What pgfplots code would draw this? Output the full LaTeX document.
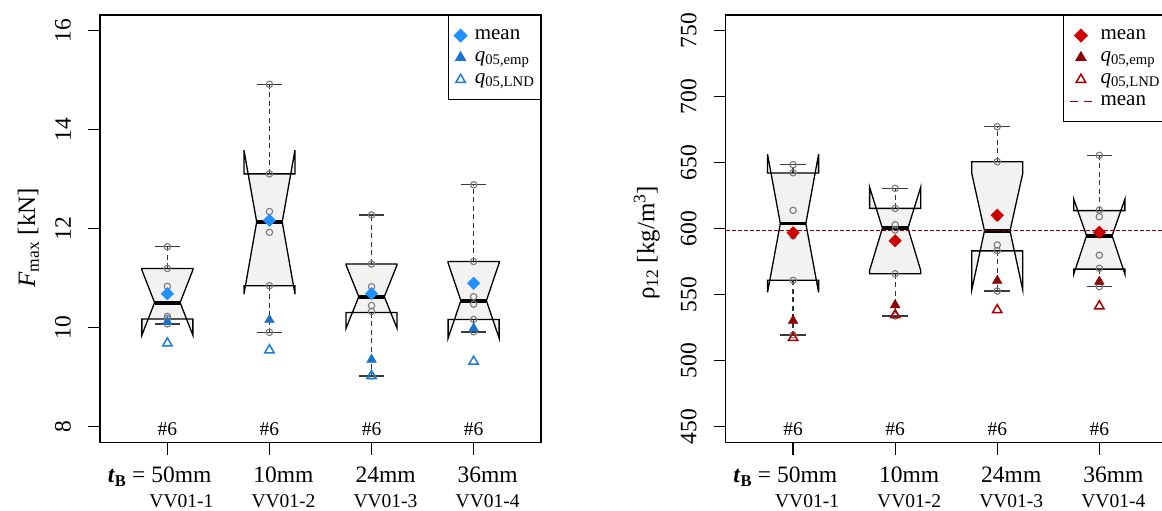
\documentclass[border=0pt]{standalone}
\usepackage{fontspec}
\setmainfont{Liberation Serif}
\usepackage{pgfplots}
\pgfplotsset{compat=1.18}

\definecolor{boxgray}{HTML}{F2F2F2}
\definecolor{ptgray}{HTML}{7A7A7A}
\definecolor{whiskc}{HTML}{333333}
\definecolor{capc}{HTML}{3A3A3A}
\definecolor{bmean}{HTML}{1E90FF}
\definecolor{bemp}{HTML}{1874CD}
\definecolor{blnd}{HTML}{1C7CD9}
\definecolor{rmean}{HTML}{CD0000}
\definecolor{remp}{HTML}{8B0000}
\definecolor{rlnd}{HTML}{A80000}
\definecolor{rline}{HTML}{8B0000}

\newcommand\fTick{\fontsize{23.5}{25}\selectfont}
\newcommand\fLab{\fontsize{25}{28}\selectfont}
\newcommand\fLeg{\fontsize{21}{22}\selectfont}
\newcommand\fSmall{\fontsize{19.5}{25}\selectfont}

% notched box: x, Q1, notch lo, median, notch hi, Q3, lower whisker, upper whisker
\newcommand\nbox[8]{%
  \pgfmathsetmacro\xa{#1-0.25}%
  \pgfmathsetmacro\xb{#1+0.25}%
  \pgfmathsetmacro\xc{#1-0.125}%
  \pgfmathsetmacro\xd{#1+0.125}%
  \edef\nboxcmd{%
    \noexpand\addplot[boxfill] coordinates {(\xa,#2) (\xb,#2) (\xb,#3) (\xd,#4) (\xb,#5) (\xb,#6) (\xa,#6) (\xa,#5) (\xc,#4) (\xa,#3)} -- cycle;
    \noexpand\addplot[whisk] coordinates {(#1,#6) (#1,#8)};
    \noexpand\addplot[whisk] coordinates {(#1,#2) (#1,#7)};
    \noexpand\addplot[capl] coordinates {(\xc,#8) (\xd,#8)};
    \noexpand\addplot[capl] coordinates {(\xc,#7) (\xd,#7)};
    \noexpand\addplot[medline] coordinates {(\xc,#4) (\xd,#4)};
  }\nboxcmd}

\pgfplotsset{
  boxfill/.style={forget plot, draw=black, line width=1.3pt, fill=boxgray, mark=none},
  whisk/.style={forget plot, draw=whiskc, line width=1.3pt, dash pattern=on 5pt off 3.5pt, mark=none},
  capl/.style={forget plot, draw=capc, line width=1.4pt, mark=none},
  medline/.style={forget plot, draw=black, line width=3.8pt, mark=none},
  pts/.style={forget plot, only marks, mark=o, mark size=3.2pt, color=ptgray, mark options={line width=1.1pt}},
  dmd/.style={only marks, mark=square*, mark size=4.4pt, mark options={rotate=45}},
  tri/.style={only marks, mark=triangle*, mark size=5.6pt},
  otri/.style={only marks, mark=triangle, mark size=5.4pt, mark options={line width=1.5pt, fill=white}},
  markleg/.style={legend image code/.code={\draw[mark repeat=2, mark phase=2, ##1] plot coordinates {(0pt,0pt) (11pt,0pt) (22pt,0pt)};}},
  lineleg/.style={legend image code/.code={\draw[##1] (0pt,0pt) -- (22pt,0pt);}},
  panel/.style={
    scale only axis, width=441pt, height=427.7pt,
    anchor=south west,
    xmin=0.34, xmax=4.66,
    xtick={1,2,3,4},
    tick pos=left, tick align=outside,
    major tick length=12pt,
    every tick/.style={black, line width=1.2pt},
    axis line style={line width=1.3pt},
    clip=false,
    /pgf/number format/assume math mode=true,
    yticklabel style={font=\fTick, rotate=90, anchor=south, inner sep=0pt},
    yticklabel shift=17pt,
    xticklabel style={font=\fTick, anchor=north, inner sep=0pt, align=center, xshift=14pt},
    xticklabel shift=12pt,
    xticklabels={{\llap{\textbf{\textit{t}}\textsubscript{\textbf{B}} = }50mm\\{\fSmall VV01-1}},
                 {10mm\\{\fSmall VV01-2}},
                 {24mm\\{\fSmall VV01-3}},
                 {36mm\\{\fSmall VV01-4}}},
    every axis y label/.style={rotate=90, anchor=south, inner sep=0pt, font=\fLab},
    legend style={at={(1,1)}, anchor=north east, draw=black, line width=1.2pt,
      font=\fLeg, inner xsep=6pt, inner ysep=9pt, column sep=8pt,
      nodes={inner sep=0pt, text height=15pt, text depth=7pt}},
    legend cell align=left,
  },
}

\begin{document}
\begin{tikzpicture}
\useasboundingbox (0pt,0pt) rectangle (1162pt,511pt);

% ---------------- left: F_max ----------------
\begin{axis}[panel, at={(100pt,68.3pt)},
  ymin=7.68, ymax=16.32, ytick={8,10,12,14,16},
  ylabel={\textit{F}\textsubscript{max} [kN]},
  ylabel style={at={(axis description cs:-0.138,0.479)}}]
\nbox{1}{10.18}{9.85}{10.51}{11.17}{11.20}{10.08}{11.64}
\nbox{2}{10.85}{10.68}{12.14}{13.59}{13.11}{9.91}{14.92}
\nbox{3}{10.31}{9.99}{10.63}{11.27}{11.29}{9.03}{12.28}
\nbox{4}{10.17}{9.79}{10.55}{11.31}{11.34}{9.92}{12.89}
\addplot[pts] coordinates {
  (1,11.64) (1,11.20) (1,10.84) (1,10.23) (1,10.19) (1,10.08)
  (2,14.92) (2,13.11) (2,12.35) (2,11.93) (2,10.85) (2,9.91)
  (3,12.28) (3,11.29) (3,10.83) (3,10.45) (3,10.33) (3,9.03)
  (4,12.89) (4,11.34) (4,10.63) (4,10.48) (4,10.17) (4,9.92)};
\addplot[dmd, color=bmean, forget plot] coordinates {(1,10.69) (2,12.17) (3,10.69) (4,10.90)};
\addplot[tri, color=bemp, forget plot] coordinates {(1,10.12) (2,10.16) (3,9.36) (4,9.99)};
\addplot[otri, color=blnd, forget plot] coordinates {(1,9.69) (2,9.55) (3,9.03) (4,9.32)};
\addlegendimage{dmd, color=bmean, markleg}
\addlegendentry{mean}
\addlegendimage{tri, color=bemp, markleg}
\addlegendentry{\textit{q}\textsubscript{05,emp}}
\addlegendimage{otri, color=blnd, markleg}
\addlegendentry{\textit{q}\textsubscript{05,LND}}
\foreach \i in {1,2,3,4} {\edef\tmp{\noexpand\node[anchor=base, font=\noexpand\fSmall] at (axis cs:\i,7.83) {\noexpand\#6};}\tmp}
\end{axis}

% ---------------- right: rho_12 ----------------
\begin{axis}[panel, at={(725.7pt,68.3pt)},
  ymin=438, ymax=762, ytick={450,500,...,750},
  ylabel={ρ\textsubscript{12} [kg/m\textsuperscript{3}]},
  ylabel style={at={(axis description cs:-0.149,0.467)}}]
\nbox{1}{561.0}{551.9}{604.0}{656.5}{642.3}{519.6}{648.6}
\nbox{2}{566.0}{568.6}{600.5}{631.5}{615.5}{534.0}{630.7}
\nbox{3}{583.3}{553.7}{598.5}{642.1}{650.9}{552.9}{677.4}
\nbox{4}{569.5}{565.8}{594.8}{622.4}{613.8}{556.2}{655.7}
\addplot[forget plot, rline, line width=1pt, dash pattern=on 4pt off 2pt] coordinates {(0.34,598.4) (4.66,598.4)};
\addplot[pts] coordinates {
  (1,648.6) (1,642.5) (1,614.0) (1,594.6) (1,561.0) (1,519.6)
  (2,630.7) (2,615.5) (2,603.1) (2,599.1) (2,566.0) (2,534.0)
  (3,677.4) (3,650.9) (3,608.7) (3,587.8) (3,583.5) (3,552.9)
  (4,655.7) (4,614.2) (4,609.2) (4,580.0) (4,570.1) (4,556.2)};
\addplot[dmd, color=rmean, forget plot] coordinates {(1,597.1) (2,591.0) (3,610.3) (4,597.4)};
\addplot[tri, color=remp, forget plot] coordinates {(1,530.4) (2,542.3) (3,560.7) (4,560.0)};
\addplot[otri, color=rlnd, forget plot] coordinates {(1,517.5) (2,534.7) (3,538.5) (4,541.5)};
\addlegendimage{dmd, color=rmean, markleg}
\addlegendentry{mean}
\addlegendimage{tri, color=remp, markleg}
\addlegendentry{\textit{q}\textsubscript{05,emp}}
\addlegendimage{otri, color=rlnd, markleg}
\addlegendentry{\textit{q}\textsubscript{05,LND}}
\addlegendimage{rline, line width=1.2pt, dash pattern=on 8pt off 6pt, lineleg}
\addlegendentry{mean}
\foreach \i in {1,2,3,4} {\edef\tmp{\noexpand\node[anchor=base, font=\noexpand\fSmall] at (axis cs:\i,443.8) {\noexpand\#6};}\tmp}
\end{axis}
\end{tikzpicture}
\end{document}
